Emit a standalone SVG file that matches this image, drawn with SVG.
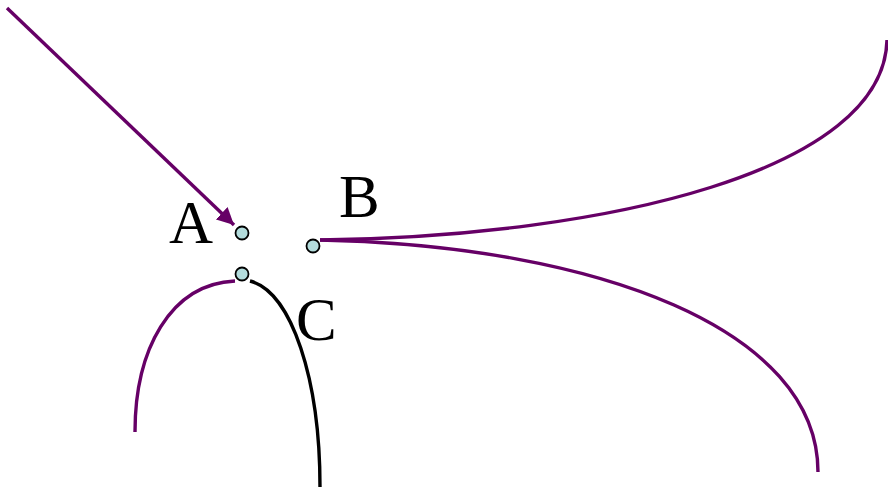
<svg xmlns="http://www.w3.org/2000/svg" width="888" height="487" viewBox="0 0 888 487">
<style>
.p{fill:none;stroke:#660066;stroke-width:3.4}
.k{fill:none;stroke:#000;stroke-width:3.4}
.n{fill:#b3dcdc;stroke:#000;stroke-width:1.8}
.t{font-family:"Liberation Serif",serif;font-size:61px;fill:#000}
</style>
<defs>
<marker id="ah" viewBox="0 0 10 10" refX="10" refY="5" markerWidth="5" markerHeight="5" markerUnits="strokeWidth" orient="auto">
<path d="M0,0 L10,5 L0,10 z" fill="#660066"/>
</marker>
</defs>
<rect width="888" height="487" fill="#fff"/>
<g id="connectors">
<path class="p" d="M7,8 L234,225" marker-end="url(#ah)"/>
<path class="p" d="M320,240 C610,236 884,170 887,40"/>
<path class="p" d="M320,240 C600,246 818,330 818,472"/>
<path class="p" d="M235,281 C170,284 135,350 135,432"/>
<path class="k" d="M250,281 C292,292 320,380 320,487"/>
</g>
<g id="A"><circle class="n" cx="242" cy="233" r="6.5"/><text class="t" x="169" y="243">A</text></g>
<g id="B"><circle class="n" cx="313" cy="246" r="6.5"/><text class="t" x="339" y="217">B</text></g>
<g id="C"><circle class="n" cx="242" cy="274" r="6.5"/><text class="t" x="296" y="340">C</text></g>
</svg>
